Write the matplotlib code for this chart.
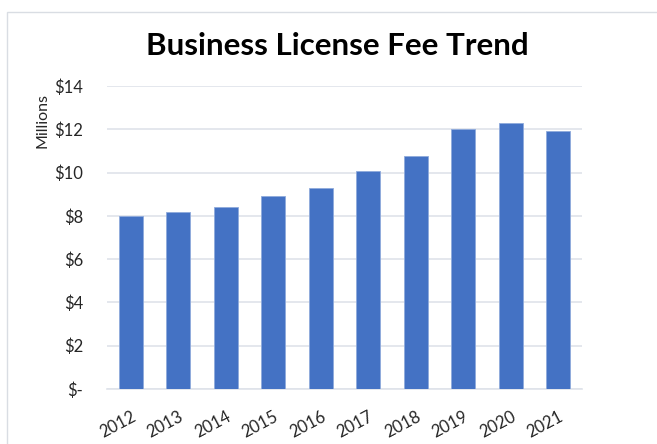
import matplotlib
matplotlib.use("Agg")
import matplotlib.pyplot as plt
from matplotlib.patches import Rectangle

# Data (millions of dollars)
years = ["2012", "2013", "2014", "2015", "2016", "2017", "2018", "2019", "2020", "2021"]
fees = [8.00, 8.18, 8.39, 8.94, 9.31, 10.08, 10.76, 12.00, 12.29, 11.90]
y_ticks = [0, 2, 4, 6, 8, 10, 12, 14]
y_tick_labels = ["$-", "$2", "$4", "$6", "$8", "$10", "$12", "$14"]

W, H = 657, 444
fig = plt.figure(figsize=(W / 100, H / 100), dpi=100)
plt.rcParams["font.family"] = ["Lato", "DejaVu Sans"]

# axes placed in pixel coords: left 107, right 582, top 86, bottom 389
ax = fig.add_axes([107 / W, 1 - 389 / H, (582 - 107) / W, (389 - 86) / H])

x = range(len(years))
ax.bar(x, fees, width=0.5, color="#4472C4", edgecolor="#8faadc", linewidth=0.6, zorder=3)

ax.set_xlim(-0.5, len(years) - 0.5)
ax.set_ylim(0, 14)
ax.set_yticks(y_ticks)
ax.set_yticklabels(y_tick_labels)
ax.set_xticks(list(x))
ax.set_xticklabels(years, rotation=28, ha="right", rotation_mode="anchor")

ax.grid(axis="y", color="#dfe3ea", linewidth=1.2, zorder=0)
for s in ["top", "right", "left"]:
    ax.spines[s].set_visible(False)
ax.spines["bottom"].set_color("#dfe3ea")
ax.spines["bottom"].set_linewidth(1.2)
ax.tick_params(axis="both", length=0, labelsize=12, colors="#262626")
ax.tick_params(axis="y", pad=17)
ax.tick_params(axis="x", pad=14)

fig.text(337 / W, 1 - 46 / H, "Business License Fee Trend", ha="center", va="center",
         fontsize=22.5, fontweight="bold", color="black")
fig.text(42 / W, 1 - 120 / H, "Millions", rotation=90, ha="center", va="center",
         fontsize=11.5, color="#262626")

# chart frame
fig.patches.append(Rectangle((7 / W, -0.1), 1.0, 1 - 12 / H + 0.1, transform=fig.transFigure,
                             fill=False, edgecolor="#d9dde3", linewidth=1.0))

fig.savefig("out.png", dpi=100)
